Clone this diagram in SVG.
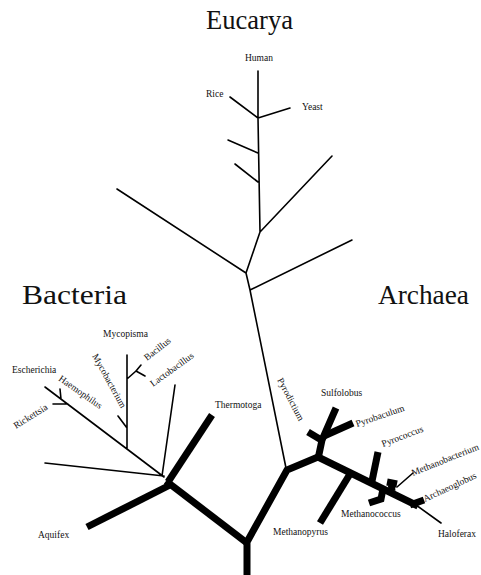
<svg xmlns="http://www.w3.org/2000/svg" width="481" height="575" viewBox="0 0 481 575">
<style>
.t{font-family:"Liberation Serif","Times New Roman",serif;font-size:9.5px;fill:#111}
.big{font-family:"Liberation Serif","Times New Roman",serif;font-size:28px;fill:#111}
.th{fill:none;stroke:#000;stroke-width:1.6;stroke-linecap:round;stroke-linejoin:round}
.tk{fill:none;stroke:#000;stroke-width:7;stroke-linecap:butt;stroke-linejoin:miter}
</style>
<rect width="481" height="575" fill="#fff"/>
<g id="domains">
<text id="eucarya" class="big" x="206" y="29" textLength="87" lengthAdjust="spacingAndGlyphs">Eucarya</text>
<text id="bacteria" class="big" x="22" y="304" textLength="105" lengthAdjust="spacingAndGlyphs">Bacteria</text>
<text id="archaea" class="big" x="378" y="304" textLength="91" lengthAdjust="spacingAndGlyphs">Archaea</text>
</g>
<g id="connectors">
<g id="thin">
<path class="th" d="M258,71 L258,118 M230,97 L258,118 M258,118 L290,108 M258,118 L259,175 L260,232 M258,153 L228,140 M258,182 L235,164 M260,232 L332,156 M260,232 L246,273 M117,189 L246,273 M246,273 L250,290 M250,290 L352,240 M250,290 L286,468"/>
<path class="th" d="M45,387 L164,477 M60,389 L61,399 M53,404 L68,404 M127,355 L127,449 M127,379 L136,371 L141,365 M136,371 L145,376 M118,416 L127,428 M175,385 L162,476 M45,463 L164,476"/>
<path class="th" d="M416,505 L441,523 M397,487 L413,473"/>
</g>
<g id="thick">
<path class="tk" d="M212,415 L168,482"/>
<path class="tk" d="M170,485 L87,527"/>
<path class="tk" d="M166,481 L247,543"/>
<path class="tk" d="M247,575 L247,542 L287,470 L318,457"/>
<path class="tk" d="M318,457 L418,506"/>
<path class="tk" d="M318,459 L322,440 L336,408"/>
<path class="tk" d="M324,436 L353,423"/>
<path class="tk" d="M308,432 L323,441"/>
<path class="tk" d="M378,452 L372,481"/>
<path class="tk" d="M350,474 L320,523"/>
<path class="tk" d="M383,489 L381,499 L369,503"/>
<path class="tk" d="M392,491 L391,481 M387,482 L397,484"/>
<path class="tk" d="M410,505 L424,500"/>
</g>
</g>
<g id="n-human"><text class="t" x="245" y="61">Human</text></g>
<g id="n-rice"><text class="t" x="206" y="97">Rice</text></g>
<g id="n-yeast"><text class="t" x="302" y="110">Yeast</text></g>
<g id="n-mycoplasma"><text class="t" x="103" y="337">Mycopisma</text></g>
<g id="n-bacillus"><text class="t" transform="translate(147,361) rotate(-38)">Bacillus</text></g>
<g id="n-lactobacillus"><text class="t" transform="translate(153,387) rotate(-36)">Lactobacillus</text></g>
<g id="n-mycobacterium"><text class="t" transform="translate(92,356) rotate(61)">Mycobacterium</text></g>
<g id="n-escherichia"><text class="t" x="12" y="373">Escherichia</text></g>
<g id="n-haemophilus"><text class="t" transform="translate(58,380) rotate(35)">Haemophilus</text></g>
<g id="n-rickettsia"><text class="t" transform="translate(16,429) rotate(-32)">Rickettsia</text></g>
<g id="n-thermotoga"><text class="t" x="215" y="408">Thermotoga</text></g>
<g id="n-aquifex"><text class="t" x="38" y="538">Aquifex</text></g>
<g id="n-pyrodictium"><text class="t" transform="translate(277,380) rotate(62)">Pyrodictium</text></g>
<g id="n-sulfolobus"><text class="t" x="321" y="396">Sulfolobus</text></g>
<g id="n-pyrobaculum"><text class="t" transform="translate(357,427) rotate(-19)">Pyrobaculum</text></g>
<g id="n-pyrococcus"><text class="t" transform="translate(383,447) rotate(-21)">Pyrococcus</text></g>
<g id="n-methanobacterium"><text class="t" transform="translate(413,476) rotate(-22)">Methanobacterium</text></g>
<g id="n-archaeoglobus"><text class="t" transform="translate(425,502) rotate(-25)">Archaeoglobus</text></g>
<g id="n-methanococcus"><text class="t" x="341" y="517">Methanococcus</text></g>
<g id="n-methanopyrus"><text class="t" x="273" y="535">Methanopyrus</text></g>
<g id="n-haloferax"><text class="t" x="438" y="537">Haloferax</text></g>
</svg>
